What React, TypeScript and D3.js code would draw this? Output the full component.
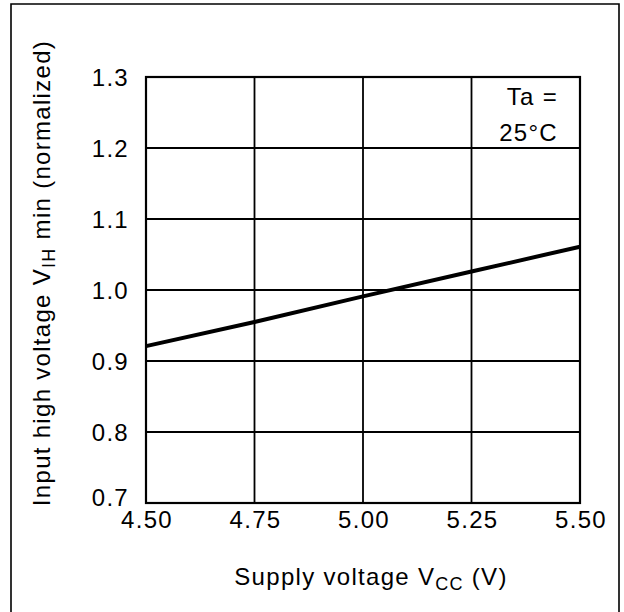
import * as d3 from 'd3'
import { useEffect, useRef } from 'react'

const supplyVoltage = [4.5, 4.75, 5.0, 5.25, 5.5]
const vihNormalized = [0.921, 0.955, 0.991, 1.026, 1.061]
const xTicks = [4.5, 4.75, 5.0, 5.25, 5.5]
const yTicks = [0.7, 0.8, 0.9, 1.0, 1.1, 1.2, 1.3]

const FONT = '"Liberation Sans", Arial, Helvetica, sans-serif'

export default function App() {
  const svgRef = useRef<SVGSVGElement | null>(null)

  useEffect(() => {
    if (!svgRef.current) return
    const width = 624
    const height = 612
    const plot = { left: 146, right: 580, top: 77, bottom: 503 }

    const svg = d3.select(svgRef.current)
    svg.selectAll('*').remove()
    svg.attr('width', width).attr('height', height)

    svg
      .append('rect')
      .attr('width', width)
      .attr('height', height)
      .attr('fill', '#fff')

    // outer frame: no bottom edge inside the picture
    svg
      .append('path')
      .attr('d', `M11,${height} L11,4 L619,4 L619,${height}`)
      .attr('fill', 'none')
      .attr('stroke', '#000')
      .attr('stroke-width', 1.6)

    const x = d3.scaleLinear().domain([4.5, 5.5]).range([plot.left, plot.right])
    const y = d3.scaleLinear().domain([0.7, 1.3]).range([plot.bottom, plot.top])

    const grid = svg.append('g').attr('stroke', '#000').attr('stroke-width', 1.8)
    grid
      .selectAll('line.v')
      .data(xTicks)
      .join('line')
      .attr('class', 'v')
      .attr('x1', d => x(d))
      .attr('x2', d => x(d))
      .attr('y1', plot.top)
      .attr('y2', plot.bottom)
    grid
      .selectAll('line.h')
      .data(yTicks)
      .join('line')
      .attr('class', 'h')
      .attr('x1', plot.left)
      .attr('x2', plot.right)
      .attr('y1', d => y(d))
      .attr('y2', d => y(d))

    svg
      .append('rect')
      .attr('x', plot.left)
      .attr('y', plot.top)
      .attr('width', plot.right - plot.left)
      .attr('height', plot.bottom - plot.top)
      .attr('fill', 'none')
      .attr('stroke', '#000')
      .attr('stroke-width', 2.2)

    const pts = supplyVoltage.map((v, i) => [v, vihNormalized[i]] as [number, number])
    const line = d3
      .line<[number, number]>()
      .x(d => x(d[0]))
      .y(d => y(d[1]))
    svg
      .append('path')
      .datum(pts)
      .attr('fill', 'none')
      .attr('stroke', '#000')
      .attr('stroke-width', 4)
      .attr('d', line)

    const text = svg
      .append('g')
      .attr('font-family', FONT)
      .attr('font-size', 24)
      .attr('letter-spacing', 1.3)
      .attr('fill', '#000')

    text
      .selectAll('text.yt')
      .data(yTicks)
      .join('text')
      .attr('class', 'yt')
      .attr('x', 129)
      .attr('y', d => y(d) + (d === 0.7 ? -6 : 0))
      .attr('text-anchor', 'end')
      .attr('dominant-baseline', 'central')
      .text(d => d.toFixed(1))

    text
      .selectAll('text.xt')
      .data(xTicks)
      .join('text')
      .attr('class', 'xt')
      .attr('x', d => x(d) + 1)
      .attr('y', 528)
      .attr('text-anchor', 'middle')
      .text(d => d.toFixed(2))

    const xt = text
      .append('text')
      .attr('x', 371)
      .attr('y', 585)
      .attr('text-anchor', 'middle')
    xt.append('tspan').text('Supply voltage V')
    xt.append('tspan').attr('font-size', 18).attr('dy', 5).text('CC')
    xt.append('tspan').attr('dy', -5).text(' (V)')

    const yt = text
      .append('text')
      .attr('transform', 'translate(50,273) rotate(-90)')
      .attr('text-anchor', 'middle')
    yt.append('tspan').text('Input high voltage V')
    yt.append('tspan').attr('font-size', 18).attr('dy', 5).text('IH')
    yt.append('tspan').attr('dy', -5).text(' min (normalized)')

    text
      .append('text')
      .attr('x', 558)
      .attr('y', 105)
      .attr('text-anchor', 'end')
      .text('Ta =')
    text
      .append('text')
      .attr('x', 558)
      .attr('y', 141)
      .attr('text-anchor', 'end')
      .text('25°C')
  }, [])

  return (
    <svg
      ref={svgRef}
      style={{ position: 'absolute', left: 0, top: 0, display: 'block' }}
    />
  )
}
